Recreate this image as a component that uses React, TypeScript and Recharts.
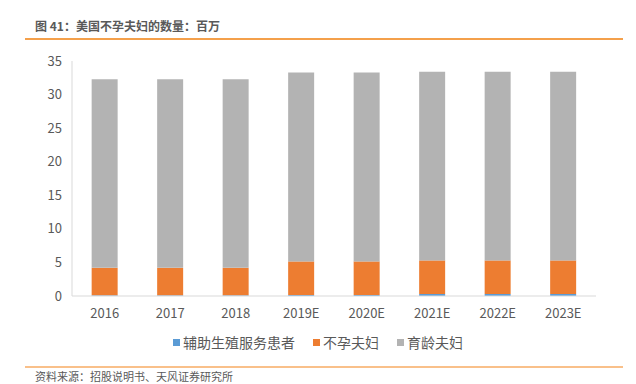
import { BarChart, Bar, XAxis, YAxis } from 'recharts';

const years = ['2016', '2017', '2018', '2019E', '2020E', '2021E', '2022E', '2023E'];
const artPatients = [0.1, 0.1, 0.1, 0.15, 0.15, 0.3, 0.3, 0.3];
const infertileCouples = [4.1, 4.1, 4.1, 5.0, 5.0, 5.0, 5.0, 5.0];
const fertileAgeCouples = [28.1, 28.1, 28.1, 28.15, 28.15, 28.1, 28.1, 28.1];
const yTicks = [0, 5, 10, 15, 20, 25, 30, 35];

const series = [
  { key: 'art', name: '辅助生殖服务患者', color: '#5B9BD5' },
  { key: 'infertile', name: '不孕夫妇', color: '#ED7D31' },
  { key: 'fertile', name: '育龄夫妇', color: '#B3B3B3' },
];

const data = years.map((y, i) => ({
  name: y,
  art: artPatients[i],
  infertile: infertileCouples[i],
  fertile: fertileAgeCouples[i],
}));

const font = '"Noto Sans CJK SC", "Noto Sans", sans-serif';

export default function App() {
  return (
    <div style={{ position: 'absolute', left: 0, top: 0, width: 636, height: 384, background: '#fff', fontFamily: font, overflow: 'hidden' }}>
      <div style={{ position: 'absolute', left: 35, top: 17, fontSize: 12, fontWeight: 700, color: '#595959', lineHeight: '18px' }}>
        图 41：美国不孕夫妇的数量：百万
      </div>
      <div style={{ position: 'absolute', left: 25, top: 38, width: 598, height: 2, background: '#F4A04B' }} />
      <BarChart
        width={636}
        height={384}
        data={data}
        margin={{ top: 61, right: 40, bottom: 58, left: 0 }}
        barCategoryGap="30%"
        style={{ position: 'absolute', left: 0, top: 0 }}
      >
        <XAxis
          dataKey="name"
          height={30}
          tickLine={false}
          axisLine={{ stroke: '#D9D9D9' }}
          tick={{ fill: '#595959', fontSize: 13, fontFamily: font }}
          tickMargin={7}
        />
        <YAxis
          width={72}
          domain={[0, 35]}
          ticks={yTicks}
          tickLine={false}
          axisLine={{ stroke: '#D9D9D9' }}
          tick={{ fill: '#595959', fontSize: 13, fontFamily: font }}
          tickMargin={4}
        />
        {series.map((s) => (
          <Bar key={s.key} dataKey={s.key} name={s.name} stackId="a" fill={s.color} isAnimationActive={false} />
        ))}
      </BarChart>
      <div style={{ position: 'absolute', left: 0, top: 333, width: 636, display: 'flex', justifyContent: 'center', fontSize: 14, color: '#595959', lineHeight: '18px' }}>
        {series.map((s) => (
          <div key={s.key} style={{ display: 'flex', alignItems: 'center', margin: '0 9px' }}>
            <span style={{ display: 'inline-block', width: 7, height: 7, background: s.color, marginRight: 3 }} />
            {s.name}
          </div>
        ))}
      </div>
      <div style={{ position: 'absolute', left: 25, top: 366, width: 598, height: 2, background: '#F9C08A' }} />
      <div style={{ position: 'absolute', left: 35, top: 369, fontSize: 11, color: '#595959', lineHeight: '14px' }}>
        资料来源：招股说明书、天风证券研究所
      </div>
    </div>
  );
}
